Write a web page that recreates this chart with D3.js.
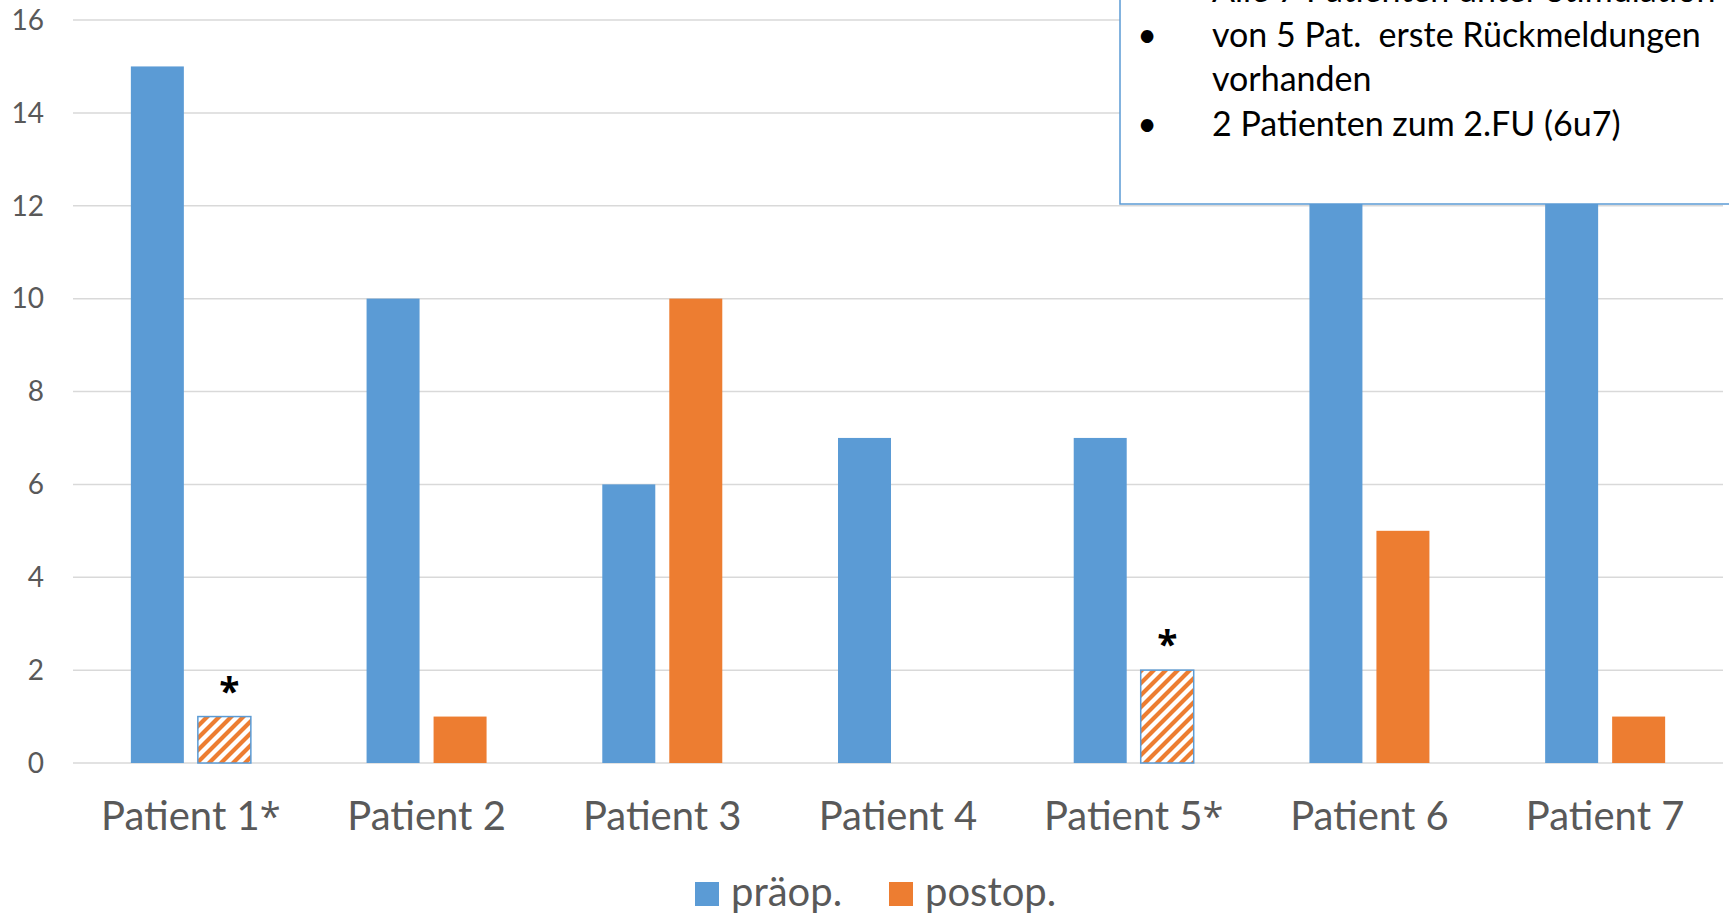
<!DOCTYPE html>
<html><head><meta charset="utf-8">
<script src="https://cdn.jsdelivr.net/npm/d3@7"></script>
<style>
html,body{margin:0;padding:0;background:#fff;}
svg{display:block;}
text{white-space:pre;}
</style></head>
<body>
<svg id="chart" width="1729" height="923"></svg>
<script>
const categories = ["Patient 1*","Patient 2","Patient 3","Patient 4","Patient 5*","Patient 6","Patient 7"];
const series = ["präop.","postop."];
const praeop = [15, 10, 6, 7, 7, 14, 14];
const postop = [1, 1, 10, 0, 2, 5, 1];
const hatched = [true, false, false, false, true, false, false];
const yTicks = [0,2,4,6,8,10,12,14,16];
const noteLines = [
  {bullet:true, text:"Alle 7 Patienten unter Stimulation"},
  {bullet:true, text:"von 5 Pat.  erste Rückmeldungen"},
  {bullet:false, text:"vorhanden"},
  {bullet:true, text:"2 Patienten zum 2.FU (6u7)"}
];

(function(){
const colors = {"präop.":"#5b9bd5","postop.":"#ed7d31"};
const font = "Lato, 'Open Sans', sans-serif";
const starFont = "'Open Sans', sans-serif";
const svg = d3.select("#chart");

const pLeft = 73, pRight = 1723, pTop = 20, pBottom = 763;
const y = d3.scaleLinear().domain([0,16]).range([pBottom, pTop]);
const x0 = d3.scaleBand().domain(categories).range([pLeft, pRight]).padding(0);
const groupW = 120;
const x1 = d3.scaleBand().domain(series)
  .range([(x0.bandwidth()-groupW)/2, (x0.bandwidth()+groupW)/2]).paddingInner(0.209).paddingOuter(0);

// pattern
const defs = svg.append("defs");
const pat = defs.append("pattern").attr("id","hatch").attr("patternUnits","userSpaceOnUse")
  .attr("width",12).attr("height",12);
pat.append("rect").attr("width",12).attr("height",12).attr("fill","#fff");
pat.append("path").attr("d","M-3,3 L3,-3 M0,12 L12,0 M9,15 L15,9")
  .attr("stroke","#ed7d31").attr("stroke-width",4.2);

// gridlines
svg.append("g").selectAll("line").data(yTicks).join("line")
  .attr("x1",pLeft).attr("x2",pRight)
  .attr("y1",d=>y(d)).attr("y2",d=>y(d))
  .attr("stroke","#d9d9d9").attr("stroke-width",1.5);

// y tick labels
svg.append("g").selectAll("text").data(yTicks).join("text")
  .attr("x",44).attr("y",d=>y(d)).attr("dy","0.35em")
  .attr("text-anchor","end").attr("font-family",font).attr("font-size",28)
  .attr("fill","#595959").text(d=>d);

// bars
const rows = categories.map((c,i)=>({cat:c, vals:[
  {s:"präop.", v:praeop[i], h:false},
  {s:"postop.", v:postop[i], h:hatched[i]}
]}));
const g = svg.append("g");
rows.forEach(r=>{
  r.vals.forEach(d=>{
    if(d.v<=0) return;
    const bx = x0(r.cat)+x1(d.s);
    const rect = g.append("rect")
      .attr("x",bx).attr("width",x1.bandwidth())
      .attr("y",y(d.v)).attr("height",y(0)-y(d.v));
    if(d.h){
      rect.attr("fill","url(#hatch)").attr("stroke","#5b9bd5").attr("stroke-width",1.5);
      svg.append("text").attr("x",bx+x1.bandwidth()/2 + (r.cat==="Patient 1*"?5:0))
        .attr("y",y(d.v)-12).attr("text-anchor","middle")
        .attr("font-family",starFont).attr("font-weight","bold").attr("font-size",37)
        .attr("fill","#000").text("*");
    } else {
      rect.attr("fill",colors[d.s]);
    }
  });
});

// x labels
const xl = svg.append("g").selectAll("text").data(categories).join("text")
  .attr("x",d=>x0(d)+x0.bandwidth()/2).attr("y",830)
  .attr("text-anchor","middle").attr("font-family",font).attr("font-size",40)
  .attr("fill","#595959");
xl.each(function(d){
  const t = d3.select(this);
  if(d.endsWith("*")){
    t.append("tspan").text(d.slice(0,-1));
    t.append("tspan").attr("font-family",starFont).attr("font-size",38).text("*");
  } else t.text(d);
});

// legend
const leg = [{s:"präop.", x:695},{s:"postop.", x:889}];
leg.forEach(l=>{
  svg.append("rect").attr("x",l.x).attr("y",882).attr("width",24).attr("height",24).attr("fill",colors[l.s]);
  svg.append("text").attr("x",l.x+36).attr("y",906).attr("font-family",font).attr("font-size",40)
    .attr("fill","#595959").text(l.s);
});

// note box
svg.append("rect").attr("x",1120).attr("y",-20).attr("width",640).attr("height",224)
  .attr("fill","#fff").attr("stroke","#5b9bd5").attr("stroke-width",1.5);
noteLines.forEach((n,i)=>{
  const by = 2 + i*44.5;
  if(n.bullet) svg.append("text").attr("x",1147).attr("y",by).attr("text-anchor","middle")
    .attr("font-family",font).attr("font-size",34).attr("fill","#000").text("•");
  svg.append("text").attr("x",1212).attr("y",by).attr("font-family",font).attr("font-size",34)
    .attr("fill","#000").text(n.text);
});
})();
</script>
</body></html>
